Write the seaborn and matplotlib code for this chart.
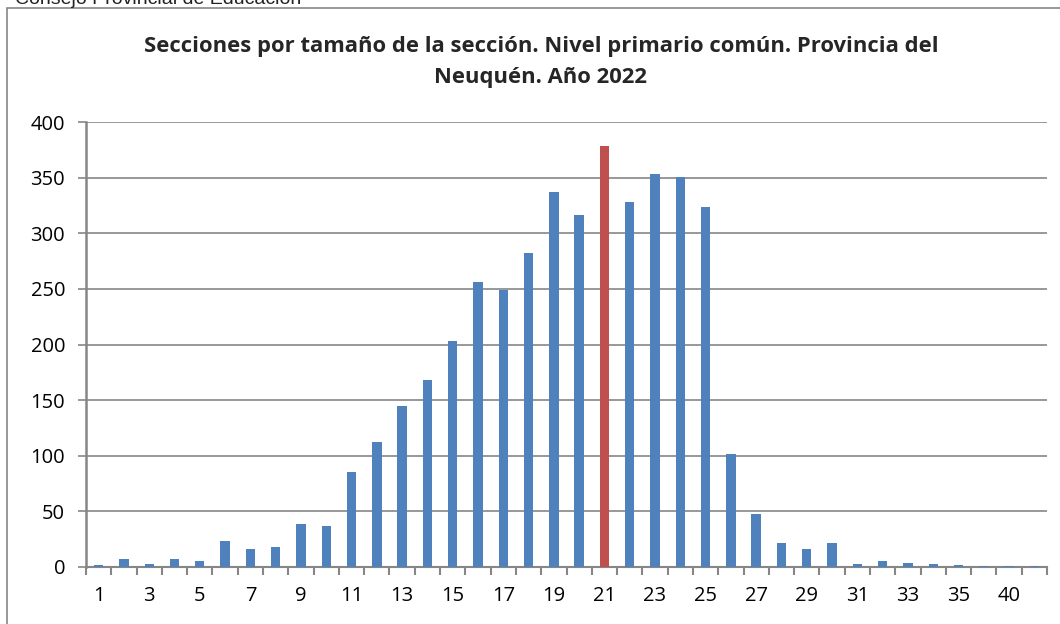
import seaborn as sns
import matplotlib.pyplot as plt
from matplotlib.patches import Rectangle

# tamaño de la sección (alumnos) y cantidad de secciones
tamanos = [str(i) for i in range(1, 37)] + ['40', '41']
secciones = [2, 7, 3, 7, 5, 23, 16, 18, 39, 37,
             85, 112, 145, 168, 203, 256, 249, 282, 337, 316,
             378, 328, 353, 351, 324, 102, 48, 22, 16, 22,
             3, 5, 4, 3, 1.5, 1, 1, 1]
destacado = '21'

yticks = list(range(0, 401, 50))

AZUL = '#4F81BD'
ROJO = '#C0504D'
GRIS = '#868686'

sns.set_theme(style='white')
plt.rcParams['font.family'] = ['Open Sans', 'DejaVu Sans']

fig = plt.figure(figsize=(10.6, 6.24), dpi=100)
ax = fig.add_axes([86 / 1060, 57 / 624, 961 / 1060, 445 / 624])

colores = [ROJO if t == destacado else AZUL for t in tamanos]
sns.barplot(x=tamanos, y=secciones, hue=tamanos, palette=colores,
            order=tamanos, hue_order=tamanos, legend=False,
            width=0.37, saturation=1, ax=ax, zorder=3, linewidth=0)

n = len(tamanos)
ax.set_xlim(-0.5, n - 0.5)
ax.set_ylim(0, 400)
ax.set_yticks(yticks)
ax.set_yticklabels([str(v) for v in yticks])
ax.yaxis.grid(True, color=GRIS, linewidth=1.2)
ax.set_axisbelow(True)

# etiquetas cada dos categorias, marcas entre categorias
ax.set_xticks(range(0, n, 2))
ax.set_xticklabels([tamanos[i] for i in range(0, n, 2)])
ax.set_xticks([i - 0.5 for i in range(n + 1)], minor=True)
ax.tick_params(axis='x', which='major', length=0, pad=14, labelsize=14.5, colors='black')
ax.tick_params(axis='x', which='minor', length=5.5, width=1.5, color=GRIS, direction='out', bottom=True)
ax.tick_params(axis='y', length=6, width=1.2, color=GRIS, direction='out', left=True,
               pad=9, labelsize=14.5, labelcolor='black')
ax.set_xlabel('')
ax.set_ylabel('')

for s in ['top', 'right']:
    ax.spines[s].set_visible(False)
ax.spines['left'].set_color(GRIS)
ax.spines['left'].set_linewidth(1.8)
ax.spines['bottom'].set_color(GRIS)
ax.spines['bottom'].set_linewidth(1.5)

# marco del grafico
fig.patches.append(Rectangle((7 / 1060, -0.1), 1.2, (616 / 624) + 0.1,
                             transform=fig.transFigure, fill=False,
                             edgecolor=GRIS, linewidth=1.2))

fig.text(15 / 1060, 1 - 4 / 624, 'Consejo Provincial de Educación', ha='left', va='baseline',
         fontsize=14, family=['Liberation Sans', 'DejaVu Sans'], color='#222222')

fig.text(541 / 1060, 1 - 36 / 624,
         'Secciones por tamaño de la sección. Nivel primario común. Provincia del\nNeuquén. Año 2022',
         ha='center', va='top', fontsize=15.8, fontweight='bold', linespacing=1.6)

fig.savefig('out.png', dpi=100)
